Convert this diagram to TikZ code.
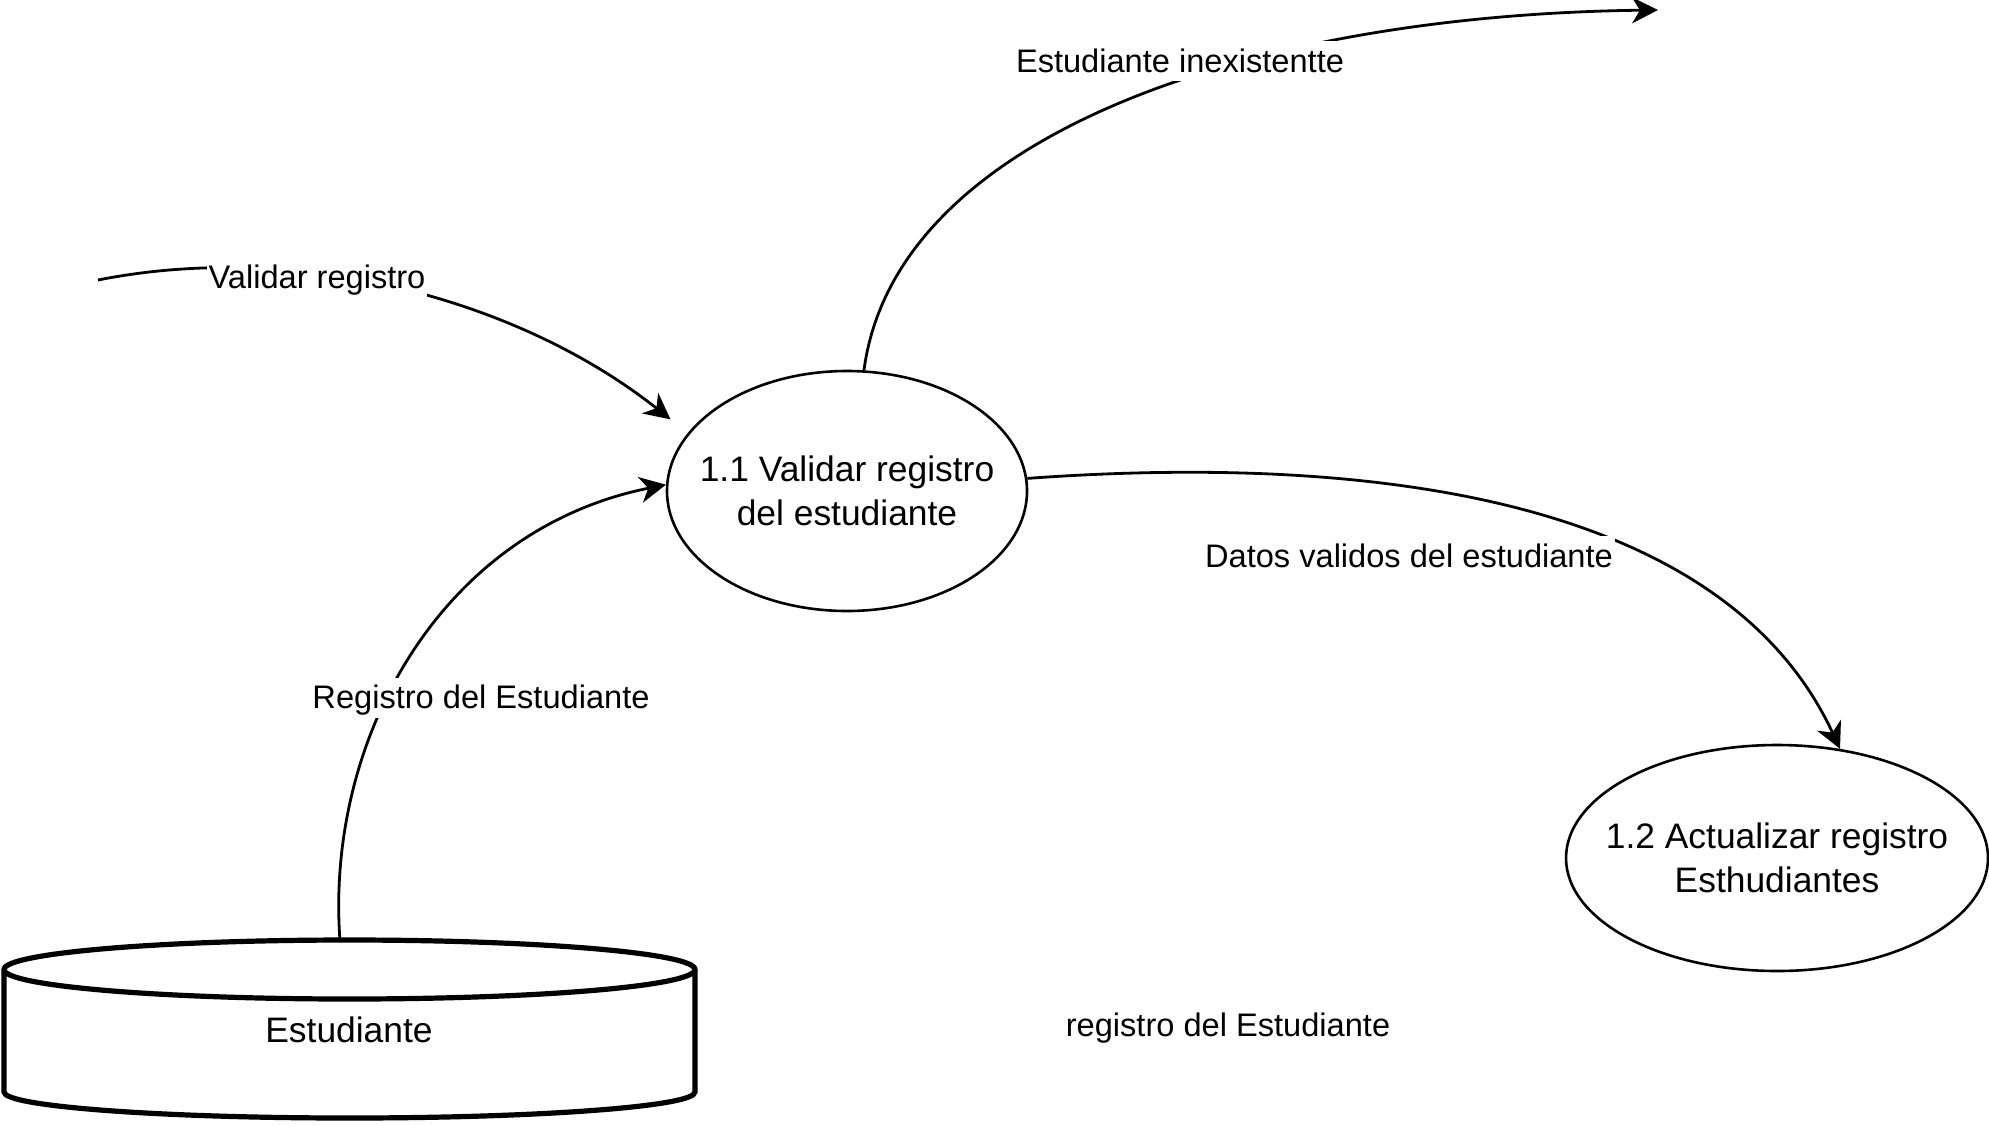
\documentclass[tikz,border=0pt]{standalone}
\usepackage{fontspec}
\setmainfont{Liberation Sans}
\usetikzlibrary{shapes.geometric,arrows.meta}
\newcommand{\twoline}[2]{\raisebox{-6pt}[0pt][0pt]{\makebox[0pt]{\begin{tabular}{@{}c@{}}#1\\#2\end{tabular}}}}

\begin{document}
\begin{tikzpicture}[x=0.5pt, y=-0.5pt,
            proc/.style={ellipse, draw, line width=1.3pt, inner sep=0pt, font=\fontsize{17.7}{22}\selectfont},
            flow/.style={line width=1.4pt, -{Stealth[length=13pt, width=13pt, inset=4pt]}},
            dbline/.style={line width=2.6pt},
            lbl/.style={fill=white, inner sep=1pt, text height=14.5pt, text depth=3.5pt, font=\fontsize{16.3}{19}\selectfont}]
            \useasboundingbox (0,0) rectangle (1989,1125);
            \node[proc, minimum width=180pt, minimum height=120pt] (v11) at (847,491) {\twoline{1.1 Validar registro}{del estudiante}};
            \node[proc, minimum width=211pt, minimum height=113pt] (v12) at (1777,858) {\twoline{1.2 Actualizar registro}{Esthudiantes}};
            \draw[dbline] (4,970) -- (4,1092) arc[start angle=180, end angle=360, x radius=172.75pt, y radius=13pt] -- (695,970);
            \draw[dbline] (349.5,969.5) ellipse[x radius=172.75pt, y radius=14.75pt];
            \node[font=\fontsize{17.7}{22}\selectfont] (db) at (349,1030) {Estudiante};
            \coordinate (dbtop) at (340,941);
            \coordinate (src) at (98,280);
            \coordinate (sink) at (1658,10);
            \draw[flow, shorten >=11pt] (src) .. controls (300,240) and (520,300) .. (v11.160);
            \draw[flow] (dbtop) .. controls (325,740) and (440,530) .. (v11.178);
            \draw[flow] (v11.82) .. controls (895,135) and (1250,15) .. (sink);
            \draw[flow] (v11.4) .. controls (1350,455) and (1720,490) .. (v12.60);
            \node[lbl] (lval) at (317,277.5) {Validar registro};
            \node[lbl] (lreg) at (481,697.5) {Registro del Estudiante};
            \node[lbl] (linex) at (1180,61) {Estudiante inexistentte};
            \node[lbl] (ldat) at (1409,556) {Datos validos del estudiante};
            \node[font=\fontsize{16.3}{19}\selectfont] (nreg) at (1228,1028) {registro del Estudiante};
        \end{tikzpicture}
\end{document}
